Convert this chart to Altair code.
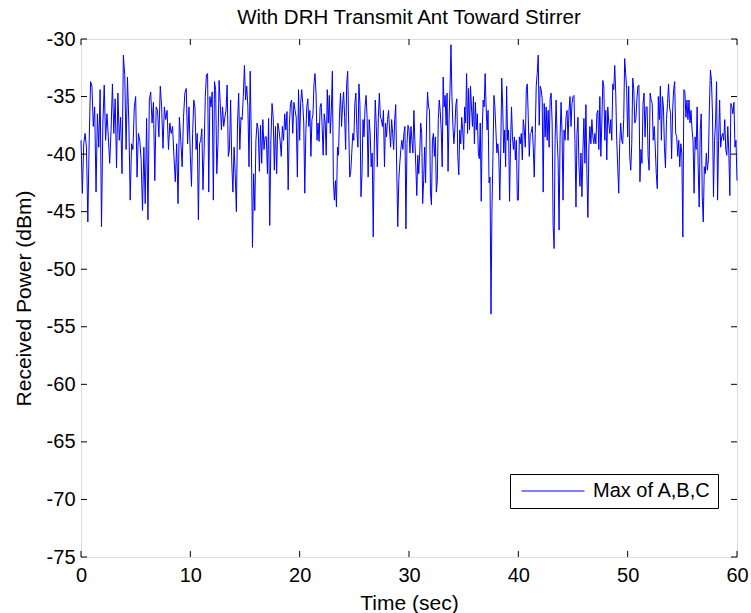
import altair as alt
import pandas as pd

# Received power (dBm), one list per 10-second span
seg_00_10 = [-38.8, -43.4, -39.1, -38.2, -39.4, -45.9, -38.8, -33.7, -34.1, -37.6,
             -35.9, -43.3, -36.5, -39.4, -34.4, -46.3, -37.3, -34.0, -38.8, -36.5,
             -38.5, -40.8, -37.9, -33.9, -38.2, -35.2, -41.2, -34.7, -38.8, -36.8,
             -41.7, -31.4, -33.1, -39.6, -33.3, -37.3, -44.0, -39.1, -39.6, -35.9,
             -35.0, -42.0, -38.2, -38.8, -40.5, -44.9, -39.4, -44.3, -36.9, -45.7,
             -35.3, -34.6, -37.3, -35.5, -42.3, -35.9, -36.2, -38.5, -34.1, -35.9,
             -39.5, -35.9, -37.0, -36.2, -39.6, -37.3, -38.2, -37.6, -40.2, -42.4,
             -39.1, -44.3, -36.8, -38.8, -41.1, -36.8, -34.7, -34.3, -39.1, -35.9]
seg_10_20 = [-40.2, -42.8, -38.2, -35.3, -35.9, -39.6, -38.2, -45.7, -39.1, -38.8,
             -37.8, -43.1, -39.6, -35.0, -33.1, -33.0, -43.3, -35.0, -35.9, -34.6,
             -44.0, -33.7, -34.4, -41.7, -39.1, -33.6, -35.6, -37.9, -35.9, -37.6,
             -36.8, -36.2, -34.0, -40.2, -39.6, -35.3, -40.8, -43.3, -39.4, -41.7,
             -45.0, -37.3, -34.7, -39.6, -36.8, -37.0, -35.0, -32.3, -35.3, -34.1,
             -35.9, -41.1, -32.8, -38.8, -48.1, -41.7, -44.9, -38.8, -37.3, -37.9,
             -41.5, -37.5, -40.8, -37.0, -39.6, -38.5, -38.5, -41.7, -36.9, -46.2,
             -38.8, -35.6, -36.8, -41.4, -37.6, -41.7, -37.3, -37.9, -38.8, -40.2,
             -37.6, -38.8, -36.5, -37.9, -36.3, -43.1, -37.6, -35.6, -35.3, -38.2,
             -35.5, -36.2, -36.8, -42.0, -34.4]
seg_20_30 = [-38.8, -35.5, -34.4, -35.6, -37.3, -43.4, -38.2, -35.9, -35.2, -37.6,
             -36.2, -40.2, -37.0, -36.6, -33.9, -33.0, -34.7, -38.8, -37.3, -38.9,
             -35.9, -35.6, -37.6, -40.1, -36.5, -37.3, -40.1, -34.4, -37.3, -34.9,
             -38.2, -36.2, -32.8, -42.3, -44.0, -42.3, -44.6, -39.4, -40.1, -36.5,
             -34.7, -37.6, -35.7, -34.6, -36.8, -39.6, -33.9, -32.8, -37.6, -42.0,
             -41.5, -39.9, -38.2, -38.8, -35.6, -34.7, -37.9, -39.4, -33.9, -35.7,
             -43.7, -41.7, -37.0, -38.5, -35.9, -34.9, -36.8, -42.0, -37.0, -38.2,
             -41.1, -39.9, -47.2, -39.4, -35.3, -37.6, -41.1, -36.8, -34.7, -36.8,
             -37.0, -37.6, -36.2, -41.1, -37.3, -38.5, -37.0, -36.2, -37.9, -39.4,
             -37.0, -38.2, -39.6, -37.0, -35.7, -41.4, -46.3, -42.3, -40.8, -39.6,
             -38.8, -39.6, -38.2, -37.6, -46.5, -39.1, -37.5]
seg_30_40 = [-37.9, -39.9, -37.6, -38.8, -39.9, -36.2, -38.8, -41.1, -43.6, -40.1,
             -41.7, -39.9, -37.3, -38.2, -44.3, -42.3, -39.4, -42.5, -37.3, -34.6,
             -35.9, -36.2, -43.4, -44.4, -38.8, -38.2, -40.2, -38.5, -43.3, -42.3,
             -37.0, -35.3, -36.3, -37.9, -41.1, -33.3, -35.9, -34.9, -37.5, -34.7,
             -41.5, -37.0, -34.4, -30.5, -35.0, -37.6, -39.1, -37.8, -35.7, -35.2,
             -40.2, -41.8, -37.9, -39.1, -36.8, -37.9, -39.6, -35.9, -37.3, -33.0,
             -38.2, -34.3, -37.9, -34.1, -35.9, -37.6, -35.0, -39.1, -35.5, -37.9,
             -36.5, -39.9, -40.4, -37.3, -44.1, -37.9, -35.3, -35.9, -33.0, -35.9,
             -37.9, -36.2, -42.5, -42.0, -53.9, -44.6, -40.2, -34.9, -35.9, -37.9,
             -39.9, -39.1, -40.2, -44.0, -39.6, -33.4, -35.9, -39.9, -37.9, -41.1,
             -34.1, -38.8, -37.9, -44.1, -39.1, -35.9, -38.5, -39.6, -38.5, -40.5,
             -38.8, -44.0]
seg_40_50 = [-44.0, -38.5, -39.1, -38.2, -40.5, -37.0, -37.9, -39.4, -34.4, -33.9,
             -36.8, -40.2, -38.2, -38.1, -37.6, -39.4, -42.0, -38.2, -34.1, -33.0,
             -31.4, -37.5, -34.1, -34.4, -35.2, -43.3, -35.6, -38.5, -35.9, -38.8,
             -36.2, -39.4, -35.2, -34.7, -37.3, -46.2, -48.2, -38.8, -35.3, -38.5,
             -40.5, -46.6, -38.5, -35.5, -38.2, -44.0, -37.9, -38.8, -36.8, -36.2,
             -38.8, -36.2, -35.0, -37.6, -35.6, -35.0, -34.9, -39.1, -44.6, -38.2,
             -36.8, -41.1, -42.8, -39.9, -43.7, -39.6, -36.9, -40.8, -35.7, -41.7,
             -45.5, -39.4, -37.6, -39.1, -37.0, -38.5, -39.1, -38.2, -39.1, -36.5,
             -36.2, -39.6, -35.0, -40.2, -37.3, -33.6, -34.1, -38.8, -36.2, -40.5,
             -35.9, -37.3, -38.2, -37.0, -38.8, -33.9, -34.4, -32.3, -34.7, -38.8,
             -41.1, -43.4, -39.1, -37.3, -38.8, -39.1, -37.0, -31.7, -33.0, -34.4]
seg_50_60 = [-38.5, -34.1, -40.2, -41.4, -39.1, -33.4, -34.4, -37.3, -37.0, -35.3,
             -34.1, -34.0, -42.4, -39.6, -40.8, -35.7, -34.7, -38.5, -35.9, -35.9,
             -40.2, -41.4, -34.7, -35.3, -35.6, -38.8, -37.6, -39.4, -41.7, -43.0,
             -35.0, -37.0, -34.1, -38.8, -35.0, -35.9, -39.4, -41.2, -37.0, -35.6,
             -33.9, -35.9, -36.5, -40.4, -36.2, -34.4, -33.7, -38.2, -38.5, -40.2,
             -38.8, -41.1, -39.1, -39.9, -47.2, -34.4, -34.6, -36.8, -35.3, -37.0,
             -35.3, -37.3, -36.2, -37.9, -38.8, -43.4, -38.5, -39.6, -35.9, -41.1,
             -44.6, -37.9, -36.5, -43.7, -45.9, -41.1, -41.7, -39.9, -41.4, -40.5,
             -35.9, -32.7, -33.6, -36.5, -43.7, -38.8, -37.3, -33.7, -44.0, -38.8,
             -35.3, -39.4, -38.5, -38.2, -38.8, -37.0, -39.6, -40.1, -37.6, -39.9,
             -43.6, -35.6, -35.9, -36.5, -35.5, -39.4, -38.8, -42.3]

segments = [(0, seg_00_10), (10, seg_10_20), (20, seg_20_30),
            (30, seg_30_40), (40, seg_40_50), (50, seg_50_60)]
series_name = "Max of A,B,C"
x_ticks = [0, 10, 20, 30, 40, 50, 60]
y_ticks = [-75, -70, -65, -60, -55, -50, -45, -40, -35, -30]

rows = []
for start, vals in segments:
    n = len(vals)
    denom = n - 1 if start == 50 else n
    for i, v in enumerate(vals):
        rows.append({"t": start + 10.0 * i / denom, "v": v, "series": series_name})
df = pd.DataFrame(rows)

FONT = "Liberation Sans"
W, H = 656, 518
TL = 6  # inward tick length

xscale = alt.Scale(domain=[0, 60], nice=False, zero=False)
yscale = alt.Scale(domain=[-75, -30], nice=False, zero=False)

line = alt.Chart(df).mark_line(strokeWidth=1, color="#0000ff").encode(
    x=alt.X("t:Q", scale=xscale, title="Time (sec)",
            axis=alt.Axis(values=x_ticks, tickSize=0, domain=False, grid=False,
                          labelFlush=False, labelOverlap=False,
                          labelFontSize=20, labelFont=FONT, labelColor="black",
                          labelPadding=8, titleFontSize=21, titleFont=FONT,
                          titleFontWeight="normal", titleColor="black",
                          titlePadding=7, labelExpr="'' + datum.value")),
    y=alt.Y("v:Q", scale=yscale, title="Received Power (dBm)",
            axis=alt.Axis(values=y_ticks, tickSize=0, domain=False, grid=False,
                          labelFlush=False, labelOverlap=False,
                          labelFontSize=20, labelFont=FONT, labelColor="black",
                          labelPadding=6, titleFontSize=21, titleFont=FONT,
                          titleFontWeight="normal", titleColor="black",
                          titlePadding=12, labelExpr="'' + datum.value")),
    color=alt.Color("series:N",
                    scale=alt.Scale(domain=[series_name], range=["#0000ff"]),
                    legend=alt.Legend(orient="none", legendX=429, legendY=435,
                                      title=None, strokeColor="black",
                                      fillColor="white", padding=7,
                                      cornerRadius=0, symbolType="stroke",
                                      symbolSize=3969, symbolStrokeWidth=1,
                                      symbolOffset=4, labelOffset=8,
                                      clipHeight=20,
                                      labelFontSize=20, labelFont=FONT,
                                      labelColor="black")),
)

xt = pd.DataFrame({"t": x_ticks})
yt = pd.DataFrame({"v": y_ticks})
xenc = alt.X("t:Q", scale=xscale, title="Time (sec)")
yenc = alt.Y("v:Q", scale=yscale, title="Received Power (dBm)")

tick_bottom = alt.Chart(xt).mark_rule(color="black", strokeWidth=1).encode(
    x=xenc, y=alt.value(H), y2=alt.value(H - TL))
tick_top = alt.Chart(xt).mark_rule(color="black", strokeWidth=1).encode(
    x=xenc, y=alt.value(0), y2=alt.value(TL))
tick_left = alt.Chart(yt).mark_rule(color="black", strokeWidth=1).encode(
    y=yenc, x=alt.value(0), x2=alt.value(TL))
tick_right = alt.Chart(yt).mark_rule(color="black", strokeWidth=1).encode(
    y=yenc, x=alt.value(W), x2=alt.value(W - TL))

chart = alt.layer(line, tick_bottom, tick_top, tick_left, tick_right).properties(
    width=W, height=H,
    title=alt.TitleParams("With DRH Transmit Ant Toward Stirrer", fontSize=20.5,
                          font=FONT, fontWeight="normal", color="black",
                          anchor="middle", offset=1),
    autosize=alt.AutoSizeParams(type="none"),
    padding={"left": 81, "top": 39, "right": 14, "bottom": 56},
).configure_view(stroke="black", strokeWidth=1).configure(background="white")

chart.save("out.html", embed_options={"renderer": "svg", "actions": False})
